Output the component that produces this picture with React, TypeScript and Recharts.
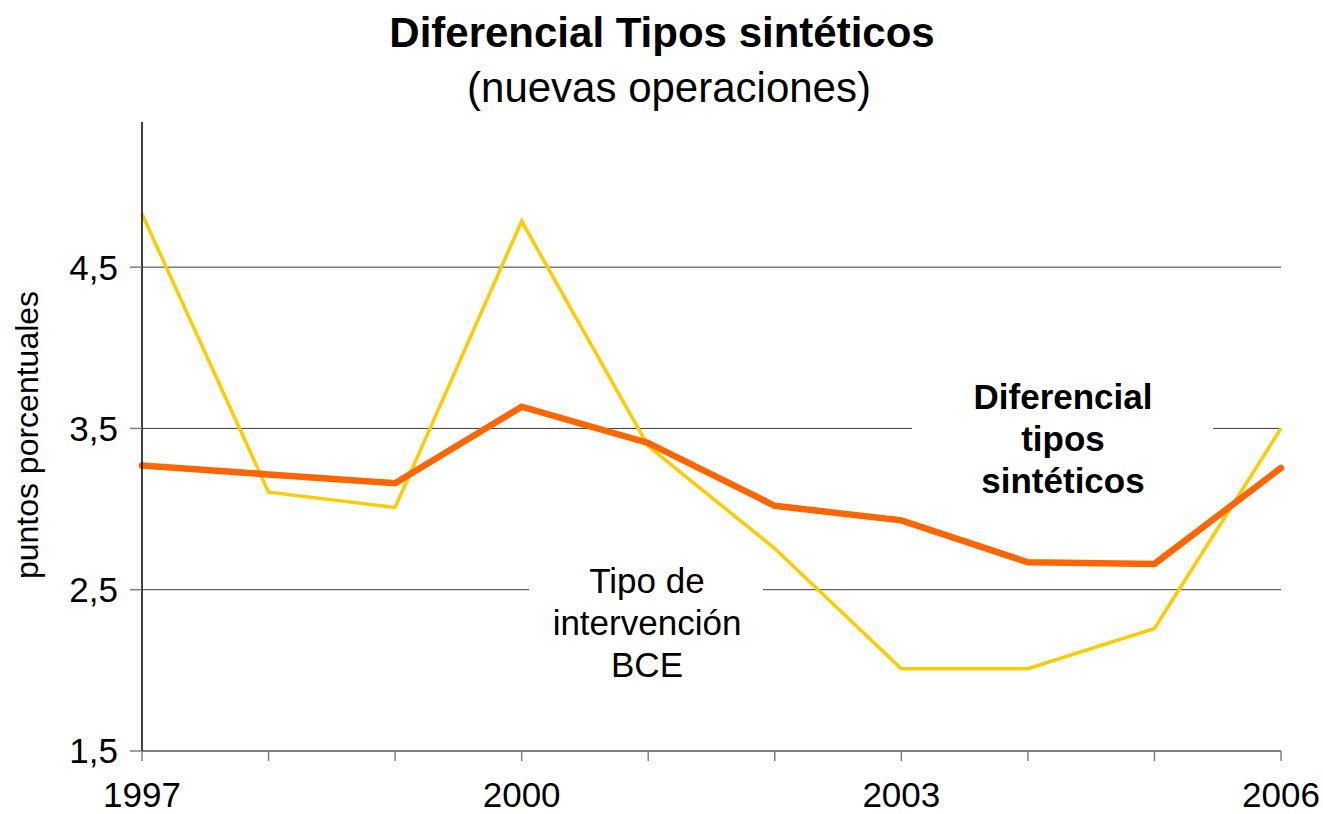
import { LineChart, Line, XAxis, YAxis, CartesianGrid, Customized } from 'recharts';

const years = [1997, 1998, 1999, 2000, 2001, 2002, 2003, 2004, 2005, 2006];
const labeledYears = [1997, 2000, 2003, 2006];
const diferencial = [3.27, 3.215, 3.16, 3.635, 3.41, 3.02, 2.93, 2.67, 2.66, 3.255];
const tipoBCE = [4.83, 3.105, 3.01, 4.785, 3.39, 2.755, 2.01, 2.01, 2.26, 3.5];
const yTicks = [1.5, 2.5, 3.5, 4.5];
const gridValues = [2.5, 3.5, 4.5];

const data = years.map((year, i) => ({
  year,
  diferencial: diferencial[i],
  tipoBCE: tipoBCE[i],
}));

const FONT = '"Liberation Sans", Arial, sans-serif';

// titles, axis caption and series labels (white boxes cut the grid lines)
function Annotations() {
  return (
    <g fontFamily={FONT} fill="#000">
      <text x={662} y={47} textAnchor="middle" fontSize={42} fontWeight="bold">
        Diferencial Tipos sintéticos
      </text>
      <text x={669} y={102} textAnchor="middle" fontSize={42}>
        (nuevas operaciones)
      </text>
      <text transform="translate(38,435) rotate(-90)" textAnchor="middle" fontSize={32}>
        puntos porcentuales
      </text>

      <rect x={529} y={556} width={234} height={134} fill="#fff" />
      <text textAnchor="middle" fontSize={35}>
        <tspan x={647} y={593}>Tipo de</tspan>
        <tspan x={647} y={635}>intervención</tspan>
        <tspan x={647} y={677}>BCE</tspan>
      </text>

      <rect x={912} y={372} width={301} height={132} fill="#fff" />
      <text textAnchor="middle" fontSize={35} fontWeight="bold">
        <tspan x={1063} y={409}>Diferencial</tspan>
        <tspan x={1063} y={451}>tipos</tspan>
        <tspan x={1063} y={493}>sintéticos</tspan>
      </text>
    </g>
  );
}

export default function App() {
  return (
    <div style={{ position: 'absolute', left: 0, top: 0, background: '#fff' }}>
      <LineChart
        width={1323}
        height={814}
        data={data}
        margin={{ top: 122, right: 42, left: 0, bottom: 0 }}
      >
        <CartesianGrid
          vertical={false}
          horizontalValues={gridValues}
          stroke="#3c3c3c"
          strokeWidth={1}
        />
        <XAxis
          dataKey="year"
          type="number"
          height={63}
          domain={[1997, 2006]}
          ticks={years}
          interval={0}
          tickFormatter={(v) => (labeledYears.includes(v) ? String(v) : '')}
          axisLine={{ stroke: '#808080', strokeWidth: 2 }}
          tickLine={{ stroke: '#808080', strokeWidth: 1.5 }}
          tickSize={10}
          tickMargin={21}
          tick={{ fontSize: 35, fill: '#000', fontFamily: FONT }}
        />
        <YAxis
          width={142}
          domain={[1.5, 5.4]}
          ticks={yTicks}
          interval={0}
          tickFormatter={(v) => String(v).replace('.', ',')}
          axisLine={{ stroke: '#000', strokeWidth: 1.5 }}
          tickLine={{ stroke: '#808080', strokeWidth: 1.5 }}
          tickSize={12}
          tickMargin={12}
          tick={{ fontSize: 35, fill: '#000', fontFamily: FONT }}
        />
        <Customized component={Annotations} />
        <Line
          type="linear"
          dataKey="tipoBCE"
          stroke="#FFCC00"
          strokeWidth={3.5}
          dot={false}
          isAnimationActive={false}
        />
        <Line
          type="linear"
          dataKey="diferencial"
          stroke="#FF6600"
          strokeWidth={6.5}
          strokeLinecap="round"
          dot={false}
          isAnimationActive={false}
        />
      </LineChart>
    </div>
  );
}
